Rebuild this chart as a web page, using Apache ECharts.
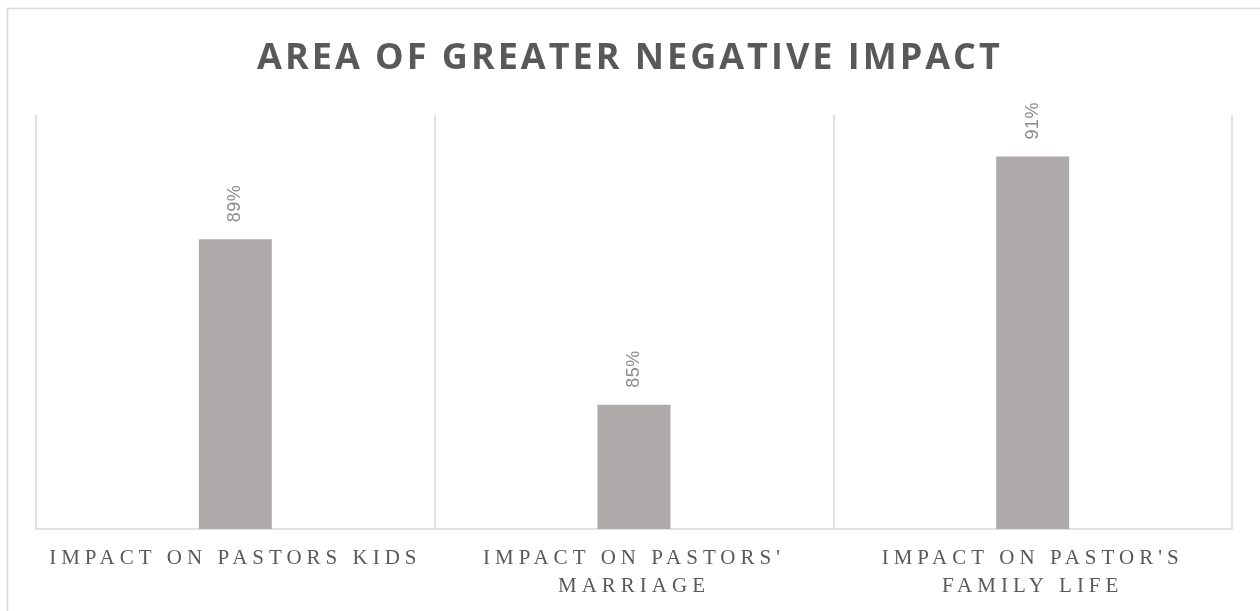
<!DOCTYPE html>
<html>
<head>
<meta charset="utf-8">
<title>Area of greater negative impact</title>
<script src="https://cdn.jsdelivr.net/npm/echarts@6/dist/echarts.min.js"></script>
<style>
  html, body { margin: 0; padding: 0; background: #fff; }
  #chart { width: 1260px; height: 611px; }
</style>
</head>
<body>
<div id="chart"></div>
<script>
// data
var categories = ['IMPACT ON PASTORS KIDS', "IMPACT ON PASTORS'\nMARRIAGE", "IMPACT ON PASTOR'S\nFAMILY LIFE"];
var values = [89, 85, 91];
var yMin = 82;
var yMax = 92;

// canvas has no letter spacing option in echarts, so add it for the spaced fonts
var origFill = CanvasRenderingContext2D.prototype.fillText;
CanvasRenderingContext2D.prototype.fillText = function (t, x, y, m) {
    var f = this.font || '';
    var ls = '0px';
    if (f.indexOf('Liberation Serif') >= 0) ls = '5px';
    else if (f.indexOf('Open Sans') >= 0) ls = '3px';
    else if (f.indexOf('Liberation Sans') >= 0) ls = '0.5px';
    this.letterSpacing = ls;
    if (m === undefined) origFill.call(this, t, x, y);
    else origFill.call(this, t, x, y, m);
    this.letterSpacing = '0px';
};

var chart = echarts.init(document.getElementById('chart'));

var option = {
    animation: false,
    backgroundColor: '#fff',
    title: {
        text: 'AREA OF GREATER NEGATIVE IMPACT',
        left: 'center',
        top: 36,
        textStyle: {
            fontFamily: 'Open Sans',
            fontWeight: 'bold',
            fontSize: 36,
            color: '#595959'
        }
    },
    graphic: [{
        type: 'rect',
        silent: true,
        shape: {x: 7.5, y: 8.5, width: 1270, height: 620},
        style: {fill: 'none', stroke: '#d9d9d9', lineWidth: 1.5}
    }],
    grid: {
        left: 36,
        right: 28,
        top: 115,
        bottom: 82
    },
    xAxis: {
        type: 'category',
        data: categories,
        axisTick: {show: false},
        axisLine: {lineStyle: {color: '#d9d9d9', width: 1.5}},
        splitLine: {show: true, lineStyle: {color: '#d9d9d9', width: 1.5}},
        axisLabel: {
            interval: 0,
            margin: 15,
            fontFamily: 'Liberation Serif',
            fontSize: 21,
            lineHeight: 28,
            color: '#595959'
        }
    },
    yAxis: {
        type: 'value',
        min: yMin,
        max: yMax,
        show: false,
        splitLine: {show: false}
    },
    series: [{
        type: 'bar',
        data: values,
        barWidth: 73,
        itemStyle: {color: '#aeaaaa'},
        label: {
            show: true,
            position: 'top',
            rotate: 90,
            align: 'left',
            verticalAlign: 'middle',
            distance: 17,
            formatter: '{c}%',
            fontFamily: 'Liberation Sans',
            fontSize: 18,
            color: '#8c8c8c'
        }
    }]
};

chart.setOption(option);
</script>
</body>
</html>
